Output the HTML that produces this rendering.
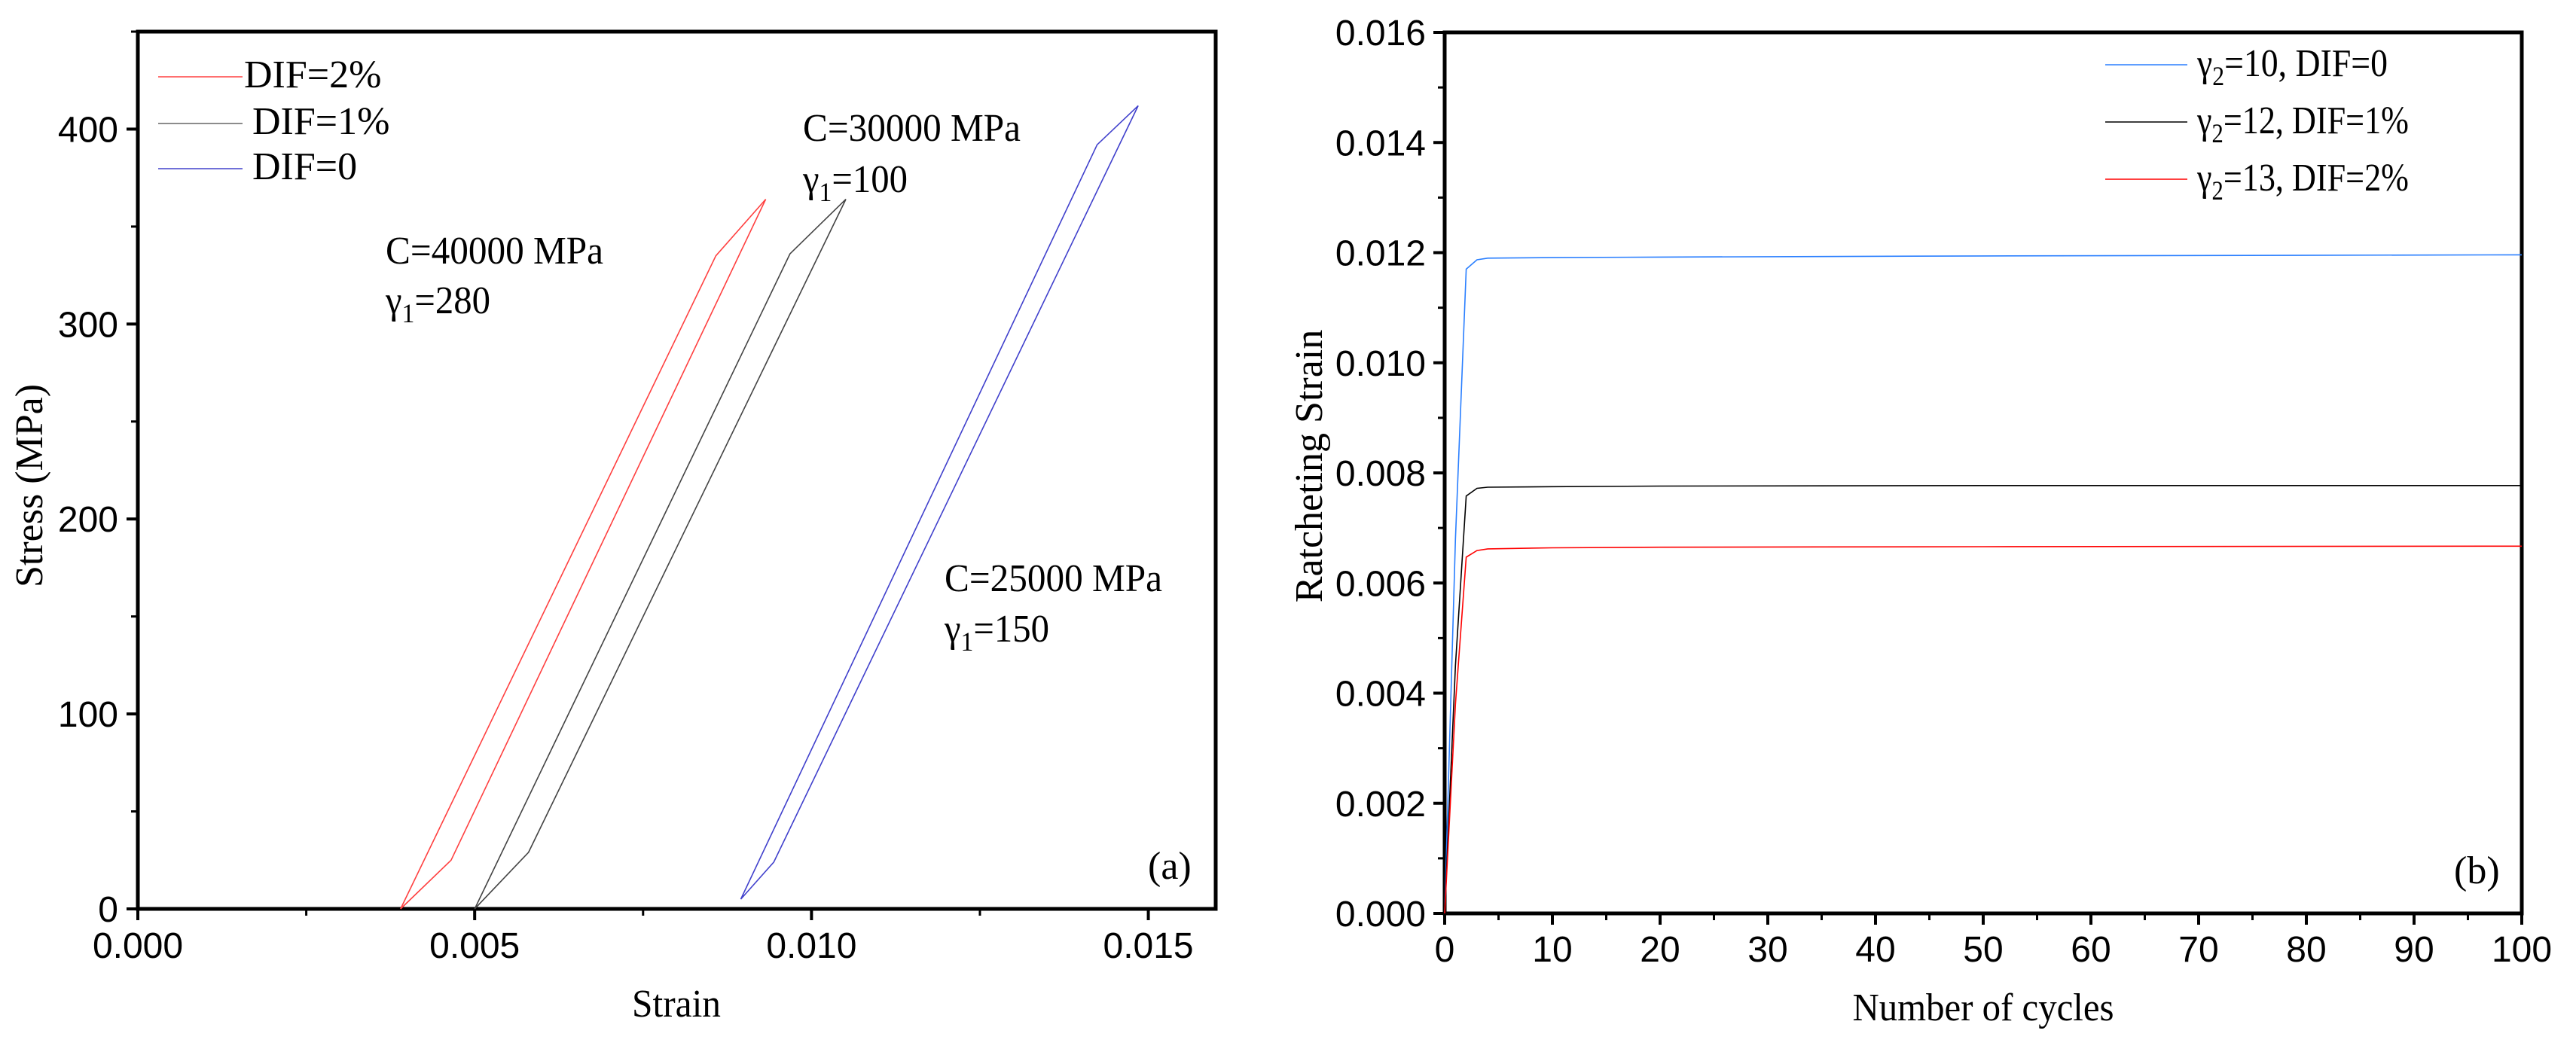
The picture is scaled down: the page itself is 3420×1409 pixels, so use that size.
<!DOCTYPE html>
<html><head><meta charset="utf-8"><style>
body{margin:0;background:#fff}
svg{display:block}
.tk{font-family:"Liberation Sans",Arial,sans-serif;font-size:48px;fill:#000}
.tm{font-family:"Liberation Serif","Times New Roman",serif;font-size:52px;fill:#000}
</style></head><body>
<svg id="fig" width="3420" height="1409" viewBox="0 0 3420 1409" xmlns="http://www.w3.org/2000/svg">
<g id="ca"></g>
<g id="cb"></g>
</svg>
<script>
// ---- Chart (a) data ----
const aXTicks = [0, 0.005, 0.010, 0.015];
const aXTickLabels = ["0.000", "0.005", "0.010", "0.015"];
const aYTicks = [0, 100, 200, 300, 400];
const aYTickLabels = ["0", "100", "200", "300", "400"];
const aRedStrain = [0.0039, 0.00858, 0.00932, 0.00465, 0.0039];
const aRedStress = [0, 335, 364, 25, 0];
const aBlackStrain = [0.0050, 0.00968, 0.01051, 0.0058, 0.0050];
const aBlackStress = [0, 336, 364, 29, 0];
const aBlueStrain = [0.00895, 0.01424, 0.01485, 0.00944, 0.00895];
const aBlueStress = [5, 392, 412, 24, 5];
// ---- Chart (b) data ----
const bXTicks = [0,10,20,30,40,50,60,70,80,90,100];
const bYTicks = [0,0.002,0.004,0.006,0.008,0.010,0.012,0.014,0.016];
const bYTickLabels = ["0.000","0.002","0.004","0.006","0.008","0.010","0.012","0.014","0.016"];
const bCycles = [0, 1, 2, 3, 4, 10, 20, 50, 100];
const bBlue = [0, 0.0068, 0.0117, 0.01187, 0.0119, 0.01191, 0.01192, 0.01194, 0.01196];
const bBlack = [0, 0.0045, 0.00758, 0.00772, 0.00774, 0.00775, 0.00776, 0.00777, 0.00777];
const bRed = [0, 0.0038, 0.00647, 0.00659, 0.00662, 0.00664, 0.00665, 0.00666, 0.00667];

const NS = "http://www.w3.org/2000/svg";
function mk(parent, tag, attrs, text){
  const e = document.createElementNS(NS, tag);
  for (const k in attrs) e.setAttribute(k, attrs[k]);
  if (text !== undefined) e.textContent = text;
  parent.appendChild(e);
  return e;
}

// ===== Chart A =====
const A = {l:183, r:1614, t:42, b:1207, x0:0, x1:0.016, y0:0, y1:450};
const ax = v => A.l + (v - A.x0) / (A.x1 - A.x0) * (A.r - A.l);
const ay = v => A.b - (v - A.y0) / (A.y1 - A.y0) * (A.b - A.t);
const ga = document.getElementById('ca');
let fr = mk(ga, 'rect', {x:A.l, y:A.t, width:A.r-A.l, height:A.b-A.t, fill:'none', stroke:'#000', 'stroke-width':5});


for (let i = 0; i < aXTicks.length; i++) {
  const x = ax(aXTicks[i]);
  const t = mk(ga, 'line', {x1:x, x2:x, y1:A.b, y2:A.b+15, stroke:'#000', 'stroke-width':4});
  
  
  const lb = mk(ga, 'text', {x:x, y:1272, 'text-anchor':'middle', class:'tk'}, aXTickLabels[i]);
  
  
  const xm = ax(aXTicks[i] + 0.0025);
  if (xm < A.r) {
    const m = mk(ga, 'line', {x1:xm, x2:xm, y1:A.b, y2:A.b+9, stroke:'#000', 'stroke-width':3});
    
    
  }
}
for (let i = 0; i < aYTicks.length; i++) {
  const y = ay(aYTicks[i]);
  const t = mk(ga, 'line', {x1:A.l-15, x2:A.l, y1:y, y2:y, stroke:'#000', 'stroke-width':4});
  
  
  const lb = mk(ga, 'text', {x:157, y:y+17, 'text-anchor':'end', class:'tk'}, aYTickLabels[i]);
  
  
  const m = mk(ga, 'line', {x1:A.l-9, x2:A.l, y1:ay(aYTicks[i]+50), y2:ay(aYTicks[i]+50), stroke:'#000', 'stroke-width':3});
  
  
}
function poly(g, xs, ys, fx, fy, color, name){
  const pts = xs.map((v,i) => fx(v).toFixed(1) + ',' + fy(ys[i]).toFixed(1)).join(' ');
  const p = mk(g, 'polyline', {points:pts, fill:'none', stroke:color, 'stroke-width':1.6});
  
  
}
poly(ga, aRedStrain, aRedStress, ax, ay, '#ff4040', 'series-dif-2pct');
poly(ga, aBlackStrain, aBlackStress, ax, ay, '#444', 'series-dif-1pct');
poly(ga, aBlueStrain, aBlueStress, ax, ay, '#4040cc', 'series-dif-0');

const legA = [['DIF=2%','#ff4040',99,324],['DIF=1%','#666',161,335],['DIF=0','#4040cc',221,335]];
legA.forEach(r => {
  const l = mk(ga, 'line', {x1:210, x2:322, y1:r[2]+3, y2:r[2]+3, stroke:r[1], 'stroke-width':1.6});
  
  
  const t = mk(ga, 'text', {x:r[3], y:r[2]+17, class:'tm'}, r[0]);
  
  
});
function anno(g, x, y, main, sub, rest, len, name){
  const t = mk(g, 'text', {x:x, y:y, class:'tm', textLength:len, lengthAdjust:'spacingAndGlyphs'});
  
  
  mk(t, 'tspan', {}, main);
  if (sub) { mk(t, 'tspan', {dy:12, 'font-size':36}, sub); mk(t, 'tspan', {dy:-12}, rest); }
}
anno(ga, 512, 350, 'C=40000 MPa', null, null, 289, 'annotation-c40000');
anno(ga, 512, 416, 'γ', '1', '=280', 139, 'annotation-gamma-280');
anno(ga, 1066, 187, 'C=30000 MPa', null, null, 289, 'annotation-c30000');
anno(ga, 1066, 255, 'γ', '1', '=100', 139, 'annotation-gamma-100');
anno(ga, 1254, 785, 'C=25000 MPa', null, null, 289, 'annotation-c25000');
anno(ga, 1254, 852, 'γ', '1', '=150', 139, 'annotation-gamma-150');
let pa = mk(ga, 'text', {x:1524, y:1167, class:'tm'}, '(a)');


let xta = mk(ga, 'text', {x:898, y:1350, 'text-anchor':'middle', class:'tm', textLength:118, lengthAdjust:'spacingAndGlyphs'}, 'Strain');


let yta = mk(ga, 'text', {x:0, y:0, 'text-anchor':'middle', class:'tm', transform:'translate(56,645) rotate(-90)'}, 'Stress (MPa)');



// ===== Chart B =====
const B = {l:1918, r:3348, t:43, b:1213, x0:0, x1:100, y0:0, y1:0.016};
const bx = v => B.l + (v - B.x0) / (B.x1 - B.x0) * (B.r - B.l);
const by = v => B.b - (v - B.y0) / (B.y1 - B.y0) * (B.b - B.t);
const gb = document.getElementById('cb');
fr = mk(gb, 'rect', {x:B.l, y:B.t, width:B.r-B.l, height:B.b-B.t, fill:'none', stroke:'#000', 'stroke-width':5});


for (let i = 0; i < bXTicks.length; i++) {
  const x = bx(bXTicks[i]);
  const t = mk(gb, 'line', {x1:x, x2:x, y1:B.b, y2:B.b+15, stroke:'#000', 'stroke-width':4});
  
  
  const lb = mk(gb, 'text', {x:x, y:1277, 'text-anchor':'middle', class:'tk'}, String(bXTicks[i]));
  
  
  if (bXTicks[i] + 5 < B.x1) {
    const xm = bx(bXTicks[i] + 5);
    const m = mk(gb, 'line', {x1:xm, x2:xm, y1:B.b, y2:B.b+9, stroke:'#000', 'stroke-width':3});
    
    
  }
}
for (let i = 0; i < bYTicks.length; i++) {
  const y = by(bYTicks[i]);
  const t = mk(gb, 'line', {x1:B.l-15, x2:B.l, y1:y, y2:y, stroke:'#000', 'stroke-width':4});
  
  
  const lb = mk(gb, 'text', {x:1893, y:y+17, 'text-anchor':'end', class:'tk'}, bYTickLabels[i]);
  
  
  if (bYTicks[i] + 0.001 < B.y1) {
    const ym = by(bYTicks[i] + 0.001);
    const m = mk(gb, 'line', {x1:B.l-9, x2:B.l, y1:ym, y2:ym, stroke:'#000', 'stroke-width':3});
    
    
  }
}
poly(gb, bCycles, bBlue, bx, by, '#2a7fff', 'series-gamma10-dif0');
poly(gb, bCycles, bBlack, bx, by, '#000', 'series-gamma12-dif1');
poly(gb, bCycles, bRed, bx, by, '#ff0000', 'series-gamma13-dif2');

const legB = [['10, DIF=0','#2a7fff',86,253],['12, DIF=1%','#000',162,281],['13, DIF=2%','#ff0000',238,281]];
legB.forEach(r => {
  const l = mk(gb, 'line', {x1:2795, x2:2904, y1:r[2], y2:r[2], stroke:r[1], 'stroke-width':1.6});
  
  
  const t = mk(gb, 'text', {x:2917, y:r[2]+15, class:'tm', textLength:r[3], lengthAdjust:'spacingAndGlyphs'});
  
  
  mk(t, 'tspan', {}, 'γ');
  mk(t, 'tspan', {dy:12, 'font-size':36}, '2');
  mk(t, 'tspan', {dy:-12}, '=' + r[0]);
});
let pb = mk(gb, 'text', {x:3258, y:1173, class:'tm'}, '(b)');


let xtb = mk(gb, 'text', {x:2633, y:1355, 'text-anchor':'middle', class:'tm', textLength:347, lengthAdjust:'spacingAndGlyphs'}, 'Number of cycles');


let ytb = mk(gb, 'text', {x:0, y:0, 'text-anchor':'middle', class:'tm', transform:'translate(1755,619) rotate(-90)'}, 'Ratcheting Strain');


</script>
</body></html>
